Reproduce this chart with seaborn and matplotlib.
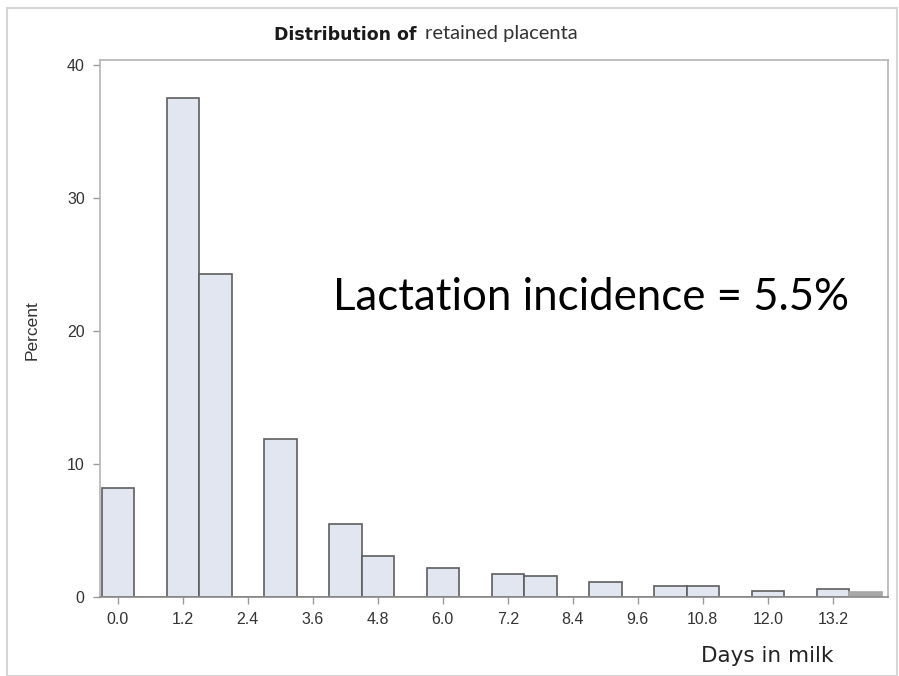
import matplotlib
matplotlib.use("Agg")
import matplotlib.pyplot as plt
import seaborn as sns
import numpy as np
import pandas as pd

# bin midpoints (days in milk) and percent of cases per bin
days = [0.0, 0.6, 1.2, 1.8, 2.4, 3.0, 3.6, 4.2, 4.8, 5.4, 6.0, 6.6, 7.2, 7.8,
        8.4, 9.0, 9.6, 10.2, 10.8, 11.4, 12.0, 12.6, 13.2, 13.8]
percent = [8.2, 0.0, 37.5, 24.3, 0.0, 11.9, 0.0, 5.5, 3.1, 0.0, 2.2, 0.0, 1.7, 1.6,
           0.0, 1.15, 0.0, 0.8, 0.8, 0.0, 0.45, 0.0, 0.6, 0.35]
xticks = [0.0, 1.2, 2.4, 3.6, 4.8, 6.0, 7.2, 8.4, 9.6, 10.8, 12.0, 13.2]
yticks = [0, 10, 20, 30, 40]
binw = 0.6

df = pd.DataFrame({"days": days, "percent": percent})

sns.set_style("white")
plt.rcParams["font.family"] = ["Liberation Sans", "DejaVu Sans"]

fig = plt.figure(figsize=(8.99, 6.76), dpi=100)
ax = fig.add_axes([100 / 899, 79 / 676, 788 / 899, 537 / 676])

edges = [d - binw / 2 for d in days] + [days[-1] + binw / 2]
sns.histplot(data=df, x="days", weights="percent", bins=edges, ax=ax,
             color="#e1e6f0", alpha=1, edgecolor="#5e5e5e", linewidth=1.2)
# last bar looks filled grey in the source
ax.patches[-1].set_facecolor("#a8a8a8")
ax.patches[-1].set_edgecolor("#a8a8a8")

ax.set_xlim(-0.33, 14.22)
ax.set_ylim(0, 40.38)
ax.set_xticks(xticks)
ax.set_xticklabels([f"{t:.1f}" for t in xticks])
ax.set_yticks(yticks)
ax.tick_params(axis="both", which="both", direction="out", length=5, width=1,
               color="#9a9a9a", labelcolor="#333333", labelsize=11.5, pad=6,
               bottom=True, left=True)
for s in ax.spines.values():
    s.set_color("#b4b4b4")
    s.set_linewidth(1.2)
ax.spines["bottom"].set_color("#8a8a8a")
ax.set_xlabel("")
ax.set_ylabel("Percent", fontsize=12.5, color="#333333")
ax.yaxis.set_label_coords(-0.077, 0.497)

# title in two fonts
fig.text(417 / 899, 1 - 35 / 676, "Distribution of", ha="right", va="center",
         fontsize=12.5, fontweight="bold", family="DejaVu Sans", color="#1a1a1a")
fig.text(425 / 899, 1 - 33 / 676, "retained placenta", ha="left", va="center",
         fontsize=14.5, family="Lato", color="#333333")

fig.text(333 / 899, 1 - 297 / 676, "Lactation incidence = 5.5%", ha="left",
         va="center", fontsize=31.5, family="Lato", color="black")
fig.text(833 / 899, 1 - 656 / 676, "Days in milk", ha="right", va="center",
         fontsize=15.5, family="DejaVu Sans", color="#222222")

# light frame round the whole picture
fig.patches.append(plt.Rectangle((7 / 899, 0), 1 - 7 / 899 - 0.002, 1 - 8 / 676,
                                 transform=fig.transFigure, fill=False,
                                 edgecolor="#d6d6d6", linewidth=1.5))

fig.savefig("out.png", dpi=100)
